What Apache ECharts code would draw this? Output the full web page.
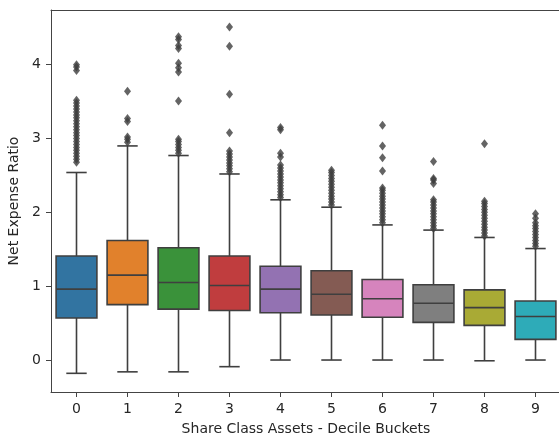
<!DOCTYPE html>
<html>
<head>
<meta charset="utf-8">
<script src="https://cdn.jsdelivr.net/npm/echarts@6/dist/echarts.min.js"></script>
<style>
html,body{margin:0;padding:0;background:#fff;}
#chart{width:559px;height:434px;}
</style>
</head>
<body>
<div id="chart"></div>
<script>
var categories = ['0','1','2','3','4','5','6','7','8','9'];
var lowWhisker = [-0.18, -0.16, -0.16, -0.09, 0.0, 0.0, 0.0, 0.0, -0.01, 0.0];
var q1Values   = [0.57, 0.75, 0.69, 0.67, 0.64, 0.61, 0.58, 0.51, 0.47, 0.28];
var medians    = [0.96, 1.15, 1.05, 1.01, 0.96, 0.89, 0.83, 0.77, 0.71, 0.59];
var q3Values   = [1.41, 1.62, 1.52, 1.41, 1.27, 1.21, 1.09, 1.02, 0.95, 0.80];
var highWhisker= [2.54, 2.90, 2.77, 2.52, 2.17, 2.07, 1.83, 1.76, 1.66, 1.51];
var outliers = [
  [2.68,2.72,2.76,2.80,2.84,2.88,2.92,2.96,3.00,3.04,3.08,3.12,3.16,3.20,3.24,3.28,3.32,3.36,3.40,3.44,3.48,3.52,3.92,3.97,4.00],
  [2.95,2.99,3.02,3.23,3.27,3.64],
  [2.80,2.84,2.88,2.92,2.96,2.99,3.51,3.90,3.96,4.02,4.22,4.26,4.34,4.38],
  [2.55,2.59,2.63,2.67,2.71,2.75,2.79,2.83,3.08,3.60,4.25,4.51],
  [2.20,2.24,2.28,2.32,2.36,2.40,2.44,2.48,2.52,2.56,2.60,2.64,2.75,2.80,3.12,3.15],
  [2.10,2.14,2.18,2.22,2.26,2.30,2.34,2.38,2.42,2.46,2.50,2.54,2.57],
  [1.86,1.90,1.94,1.98,2.02,2.06,2.10,2.14,2.18,2.22,2.26,2.30,2.33,2.56,2.74,2.90,3.18],
  [1.78,1.82,1.86,1.90,1.94,1.98,2.02,2.06,2.10,2.14,2.17,2.39,2.44,2.46,2.69],
  [1.68,1.72,1.76,1.80,1.84,1.88,1.92,1.96,2.00,2.04,2.08,2.12,2.15,2.93],
  [1.54,1.58,1.62,1.66,1.70,1.74,1.78,1.82,1.86,1.92,1.98]
];
var yTicks = [0, 1, 2, 3, 4];
var boxColors = ['#3274a1','#e1812c','#3a923a','#c03d3e','#9372b2','#845b53','#d684bd','#7f7f7f','#a9aa35','#2eabb8'];
var lineColor = '#3f3f3f';
var textColor = '#262626';

var boxData = categories.map(function(c, i){
  return [i, lowWhisker[i], q1Values[i], medians[i], q3Values[i], highWhisker[i]];
});
var outlierData = [];
outliers.forEach(function(list, i){
  list.forEach(function(v){ outlierData.push([i, v]); });
});

function renderBox(params, api){
  var idx = api.value(0);
  var pLo = api.coord([idx, api.value(1)]);
  var pQ1 = api.coord([idx, api.value(2)]);
  var pMed = api.coord([idx, api.value(3)]);
  var pQ3 = api.coord([idx, api.value(4)]);
  var pHi = api.coord([idx, api.value(5)]);
  var band = api.size([1, 0])[0];
  var bw = band * 0.8, cw = band * 0.4;
  var x = pLo[0];
  var ls = {stroke: lineColor, lineWidth: 1.6};
  return {type:'group', children:[
    {type:'line', shape:{x1:x,y1:pQ1[1],x2:x,y2:pLo[1]}, style:ls},
    {type:'line', shape:{x1:x,y1:pQ3[1],x2:x,y2:pHi[1]}, style:ls},
    {type:'line', shape:{x1:x-cw/2,y1:pLo[1],x2:x+cw/2,y2:pLo[1]}, style:ls},
    {type:'line', shape:{x1:x-cw/2,y1:pHi[1],x2:x+cw/2,y2:pHi[1]}, style:ls},
    {type:'rect', shape:{x:x-bw/2, y:pQ3[1], width:bw, height:pQ1[1]-pQ3[1]}, style:{fill:boxColors[idx], stroke:lineColor, lineWidth:1.6}},
    {type:'line', shape:{x1:x-bw/2,y1:pMed[1],x2:x+bw/2,y2:pMed[1]}, style:ls}
  ]};
}

var chart = echarts.init(document.getElementById('chart'), null, {renderer:'canvas'});
chart.setOption({
  animation: false,
  backgroundColor: '#ffffff',
  grid: {left: 51, top: 10, width: 510, height: 382, outerBoundsMode: 'none', containLabel: false, show: false},
  xAxis: [{
    type: 'category',
    data: categories,
    boundaryGap: true,
    name: 'Share Class Assets - Decile Buckets',
    nameLocation: 'middle',
    nameGap: 30,
    nameTextStyle: {fontFamily: 'DejaVu Sans', fontSize: 14, color: textColor},
    axisLine: {show: true, onZero: false, lineStyle: {color: '#444', width: 1}},
    axisTick: {show: true, alignWithLabel: true, length: 5, lineStyle: {color: '#444'}},
    axisLabel: {fontFamily: 'DejaVu Sans', fontSize: 14, color: textColor, margin: 10},
    splitLine: {show: false}
  }, {
    type: 'category',
    data: categories,
    position: 'top',
    boundaryGap: true,
    axisLine: {show: true, onZero: false, lineStyle: {color: '#444', width: 1}},
    axisTick: {show: false},
    axisLabel: {show: false},
    splitLine: {show: false}
  }],
  yAxis: {
    type: 'value',
    min: -0.433,
    max: 4.741,
    name: 'Net Expense Ratio',
    nameLocation: 'middle',
    nameGap: 22,
    nameTextStyle: {fontFamily: 'DejaVu Sans', fontSize: 14, color: textColor},
    axisLine: {show: true, lineStyle: {color: '#444', width: 1}},
    axisTick: {show: true, length: 5, customValues: yTicks, lineStyle: {color: '#444'}},
    axisLabel: {fontFamily: 'DejaVu Sans', fontSize: 14, color: textColor, margin: 10, customValues: yTicks},
    splitLine: {show: false}
  },
  series: [
    {
      type: 'scatter',
      data: outlierData,
      symbol: 'diamond',
      symbolSize: [7, 9],
      itemStyle: {color: '#3d3d3d'},
      z: 3
    },
    {
      type: 'custom',
      renderItem: renderBox,
      data: boxData,
      encode: {x: 0, y: [1,2,3,4,5]},
      z: 2
    }
  ]
});
</script>
</body>
</html>
